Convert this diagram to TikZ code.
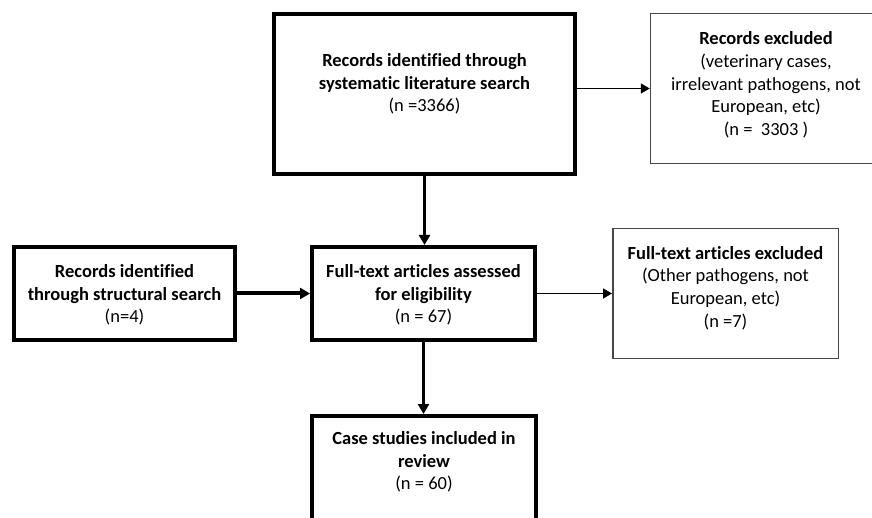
\documentclass[tikz,border=0pt]{standalone}
\usepackage{fontspec}
\setmainfont{Carlito}[Ligatures={NoCommon}]
\usetikzlibrary{arrows.meta}
\begin{document}
\begin{tikzpicture}[x=1pt,y=-1pt,
  thickbox/.style={draw=black, line width=4pt, rectangle, inner sep=0pt},
  thinbox/.style={draw=black!72, line width=1.5pt, rectangle, inner sep=0pt},
  txt/.style={align=center, font=\fontsize{18.5}{22.7}\selectfont, inner sep=0pt},
  thinarrow/.style={line width=1.5pt, -{Triangle[length=9pt,width=10pt]}},
  medarrow/.style={line width=3.2pt, -{Triangle[length=10pt,width=11pt]}},
  heavyarrow/.style={line width=4pt, -{Triangle[length=10pt,width=11pt]}}]
\clip (0,0) rectangle (872,518);
\fill[white] (0,0) rectangle (872,518);
% boxes
\node[thickbox, minimum width=301pt, minimum height=160pt] (top) at (424.5,94) {};
\node[thinbox, minimum width=231pt, minimum height=150pt] (recexcl) at (766,88.5) {};
\node[thickbox, minimum width=221pt, minimum height=93pt] (left) at (124.5,293.5) {};
\node[thickbox, minimum width=223pt, minimum height=93pt] (mid) at (423.5,293.5) {};
\node[thinbox, minimum width=225.5pt, minimum height=129.5pt] (fullexcl) at (725.5,293.5) {};
\node[thickbox, minimum width=224pt, minimum height=120pt, anchor=north] (case) at (424,414) {};
% texts
\node[txt] (toptxt) at (424.5,84) {\textbf{Records identified through}\\\textbf{systematic literature search}\\(n =3366)};
\node[txt] (recexcltxt) at (766,85) {\textbf{Records excluded}\\(veterinary cases,\\irrelevant pathogens, not\\European, etc)\\(n = \ 3303 )};
\node[txt] (lefttxt) at (124.5,295) {\textbf{Records identified}\\\textbf{through structural search}\\(n=4)};
\node[txt] (midtxt) at (423.5,295) {\textbf{Full-text articles assessed}\\\textbf{for eligibility}\\(n = 67)};
\node[txt] (fullexcltxt) at (725.5,288) {\textbf{Full-text articles excluded}\\(Other pathogens, not\\European, etc)\\(n =7)};
\node[txt] (casetxt) at (424,462) {\textbf{Case studies included in}\\\textbf{review}\\(n = 60)};
% connectors
\draw[thinarrow] (top.east |- recexcl.west) -- (recexcl.west);
\draw[medarrow] (top.south) -- (top.south |- mid.north);
\draw[heavyarrow] (left.east) -- (mid.west);
\draw[thinarrow] (mid.east) -- (fullexcl.west);
\draw[medarrow] (mid.south) -- (mid.south |- case.north);
\end{tikzpicture}
\end{document}
